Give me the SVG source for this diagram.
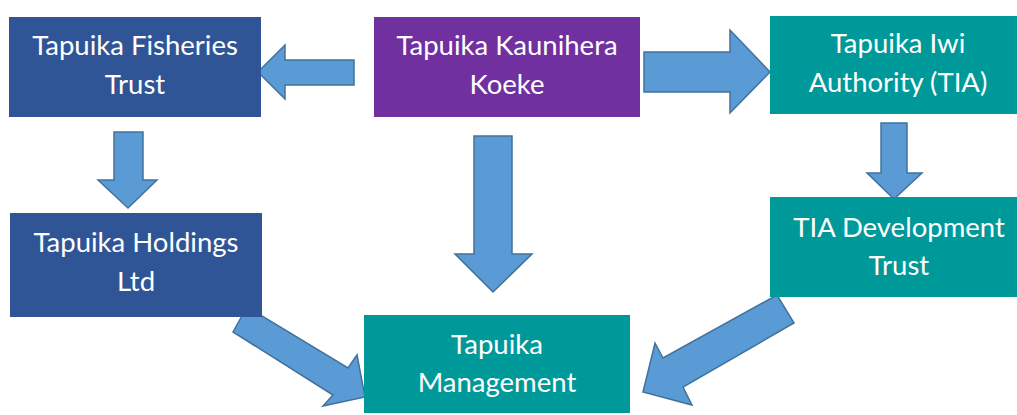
<svg xmlns="http://www.w3.org/2000/svg" width="1017" height="415" viewBox="0 0 1017 415">
<style>
.blue{fill:#2F5597}
.purple{fill:#7030A0}
.teal{fill:#009999}
.lbl{font-family:Lato,"Open Sans","Liberation Sans",sans-serif;font-size:27.5px;fill:#FFFFFF;text-anchor:middle}
.arr{fill:#5B9BD5;stroke:#41719C;stroke-width:1.5;stroke-linejoin:miter}
</style>
<rect width="1017" height="415" fill="#FFFFFF"/>
<g id="connectors">
<polygon class="arr" points="354,60 285,60 285,45 258,72 285,99 285,85 354,85"/>
<polygon class="arr" points="644,52 730,52 730,30 770,72 730,113 730,92 644,92"/>
<polygon class="arr" points="114,132 143,132 143,180 157,180 128,208 98,180 114,180"/>
<polygon class="arr" points="474,136 512,136 512,254 532,254 493,292 455,254 474,254"/>
<polygon class="arr" points="881,123 907,123 907,173 922,173 894,199 867,173 881,173"/>
<polygon class="arr" points="247,307 348,368 357,355 365,397 323,406 333,395 233,332"/>
<polygon class="arr" points="777,295 663,358 655,343 643,392 692,405 683,387 794,323"/>
</g>
<g id="fisheries">
<rect class="blue" x="9" y="17" width="252" height="100"/>
<text class="lbl" x="135" y="55">Tapuika Fisheries</text>
<text class="lbl" x="135" y="94">Trust</text>
</g>
<g id="kaunihera">
<rect class="purple" x="374" y="17" width="266" height="100"/>
<text class="lbl" x="507" y="55">Tapuika Kaunihera</text>
<text class="lbl" x="507" y="94">Koeke</text>
</g>
<g id="tia">
<rect class="teal" x="770" y="16" width="260" height="98"/>
<text class="lbl" x="898" y="53">Tapuika Iwi</text>
<text class="lbl" x="898" y="92">Authority (TIA)</text>
</g>
<g id="holdings">
<rect class="blue" x="10" y="213" width="252" height="104"/>
<text class="lbl" x="136" y="252">Tapuika Holdings</text>
<text class="lbl" x="136" y="291">Ltd</text>
</g>
<g id="tiadev">
<rect class="teal" x="770" y="197" width="260" height="100"/>
<text class="lbl" x="899" y="237">TIA Development</text>
<text class="lbl" x="899" y="275">Trust</text>
</g>
<g id="management">
<rect class="teal" x="364" y="315" width="266" height="98"/>
<text class="lbl" x="497" y="354">Tapuika</text>
<text class="lbl" x="497" y="392">Management</text>
</g>
</svg>
